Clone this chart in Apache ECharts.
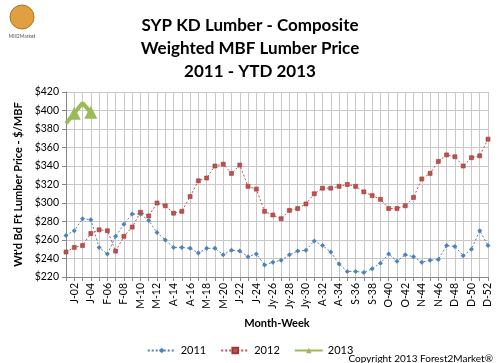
<!DOCTYPE html>
<html><head><meta charset="utf-8">
<script src="https://cdn.jsdelivr.net/npm/echarts@6/dist/echarts.min.js"></script>
<style>html,body{margin:0;padding:0;background:#fff}#c{width:500px;height:363px}</style>
</head><body><div id="c"></div>
<script>
const weeks = ['J-01','J-02','J-03','J-04','F-05','F-06','F-07','F-08','M-09','M-10','M-11','M-12','M-13','A-14','A-15','A-16','A-17','M-18','M-19','M-20','M-21','J-22','J-23','J-24','J-25','Jy-26','Jy-27','Jy-28','Jy-29','Jy-30','A-31','A-32','A-33','A-34','S-35','S-36','S-37','S-38','S-39','O-40','O-41','O-42','O-43','N-44','N-45','N-46','N-47','D-48','D-49','D-50','D-51','D-52'];
const s2011 = [265,270,283,282,252,245,264,277,288,288,281,268,260,252,252,251,246,251,251,244,249,248,242,245,233,236,238,244,248,249,259,254,247,234,226,226,225,229,235,245,237,244,242,236,238,239,254,253,243,250,270,254];
const s2012 = [247,252,254,267,271,270,248,264,274,290,286,300,297,289,291,307,324,327,340,342,332,341,318,315,291,287,283,292,294,299,310,316,316,318,320,318,312,308,304,294,294,297,306,326,332,345,352,350,340,349,351,369];
const s2013 = [386,397,408,398];
const yTicks = {min:220, max:420, step:20};

const chart = echarts.init(document.getElementById('c'));
const font = 'Lato, "Open Sans", sans-serif';
chart.setOption({
  animation:false,
  textStyle:{fontFamily:font},
  title:{
    text:'SYP KD Lumber - Composite\nWeighted MBF Lumber Price\n2011 - YTD 2013',
    left:'center', top:9,
    textStyle:{fontFamily:font, fontSize:17, fontWeight:'bold', color:'#000', lineHeight:23}
  },
  graphic:[
    {type:'circle', shape:{cx:22,cy:17,r:12}, style:{fill:'#e0a040', stroke:'#b07020', lineWidth:1}},
    {type:'text', style:{text:'Mill2Market', x:22, y:34, align:'center', fontSize:5, fill:'#555', fontFamily:font}},
    {type:'text', style:{text:'Copyright 2013 Forest2Market®', x:493, y:359, align:'right', verticalAlign:'middle', fontSize:10, fill:'#000', fontFamily:font}}
  ],
  legend:{
    top:340, left:'center', itemWidth:28, itemHeight:7, itemGap:14,
    textStyle:{fontSize:11, color:'#000', fontFamily:font},
    data:['2011','2012','2013']
  },
  grid:{left:66, right:12, top:92, bottom:86, containLabel:false},
  xAxis:{
    type:'category', data:weeks, boundaryGap:false,
    name:'Month-Week', nameLocation:'middle', nameGap:41,
    nameTextStyle:{fontSize:11, fontWeight:'bold', color:'#000', fontFamily:font},
    axisLine:{lineStyle:{color:'#868686'}},
    axisTick:{show:true, interval:0, length:4, lineStyle:{color:'#868686'}},
    axisLabel:{rotate:90, interval:(i)=>i%2===1, fontSize:10.5, color:'#000', margin:6, fontFamily:font},
    splitLine:{show:true, interval:0, lineStyle:{color:'#c8c8c8', width:1}}
  },
  yAxis:{
    type:'value', min:yTicks.min, max:yTicks.max, interval:yTicks.step,
    name:"Wt'd Bd Ft Lumber Price - $/MBF", nameLocation:'middle', nameGap:42,
    nameTextStyle:{fontSize:11, fontWeight:'bold', color:'#000', fontFamily:font},
    axisLine:{show:true, lineStyle:{color:'#868686'}},
    axisTick:{show:true, length:4, lineStyle:{color:'#868686'}},
    axisLabel:{formatter:(v)=>'$'+v, fontSize:10.5, color:'#000', margin:7, fontFamily:font},
    splitLine:{show:true, lineStyle:{color:'#c8c8c8', width:1}}
  },
  series:[
    {name:'2011', type:'line', data:s2011, symbol:'diamond', symbolSize:5,
     lineStyle:{color:'#4F81BD', width:1, type:[2,2]}, itemStyle:{color:'#4F81BD'}},
    {name:'2012', type:'line', data:s2012, symbol:'rect', symbolSize:4,
     lineStyle:{color:'#C0504D', width:1, type:[2,2]}, itemStyle:{color:'#C0504D', borderColor:'#9a3a38', borderWidth:0.6}},
    {name:'2013', type:'line', data:s2013, symbol:'triangle', symbolSize:13,
     lineStyle:{color:'#9BBB59', width:4}, itemStyle:{color:'#9BBB59'}}
  ]
});
</script></body></html>
